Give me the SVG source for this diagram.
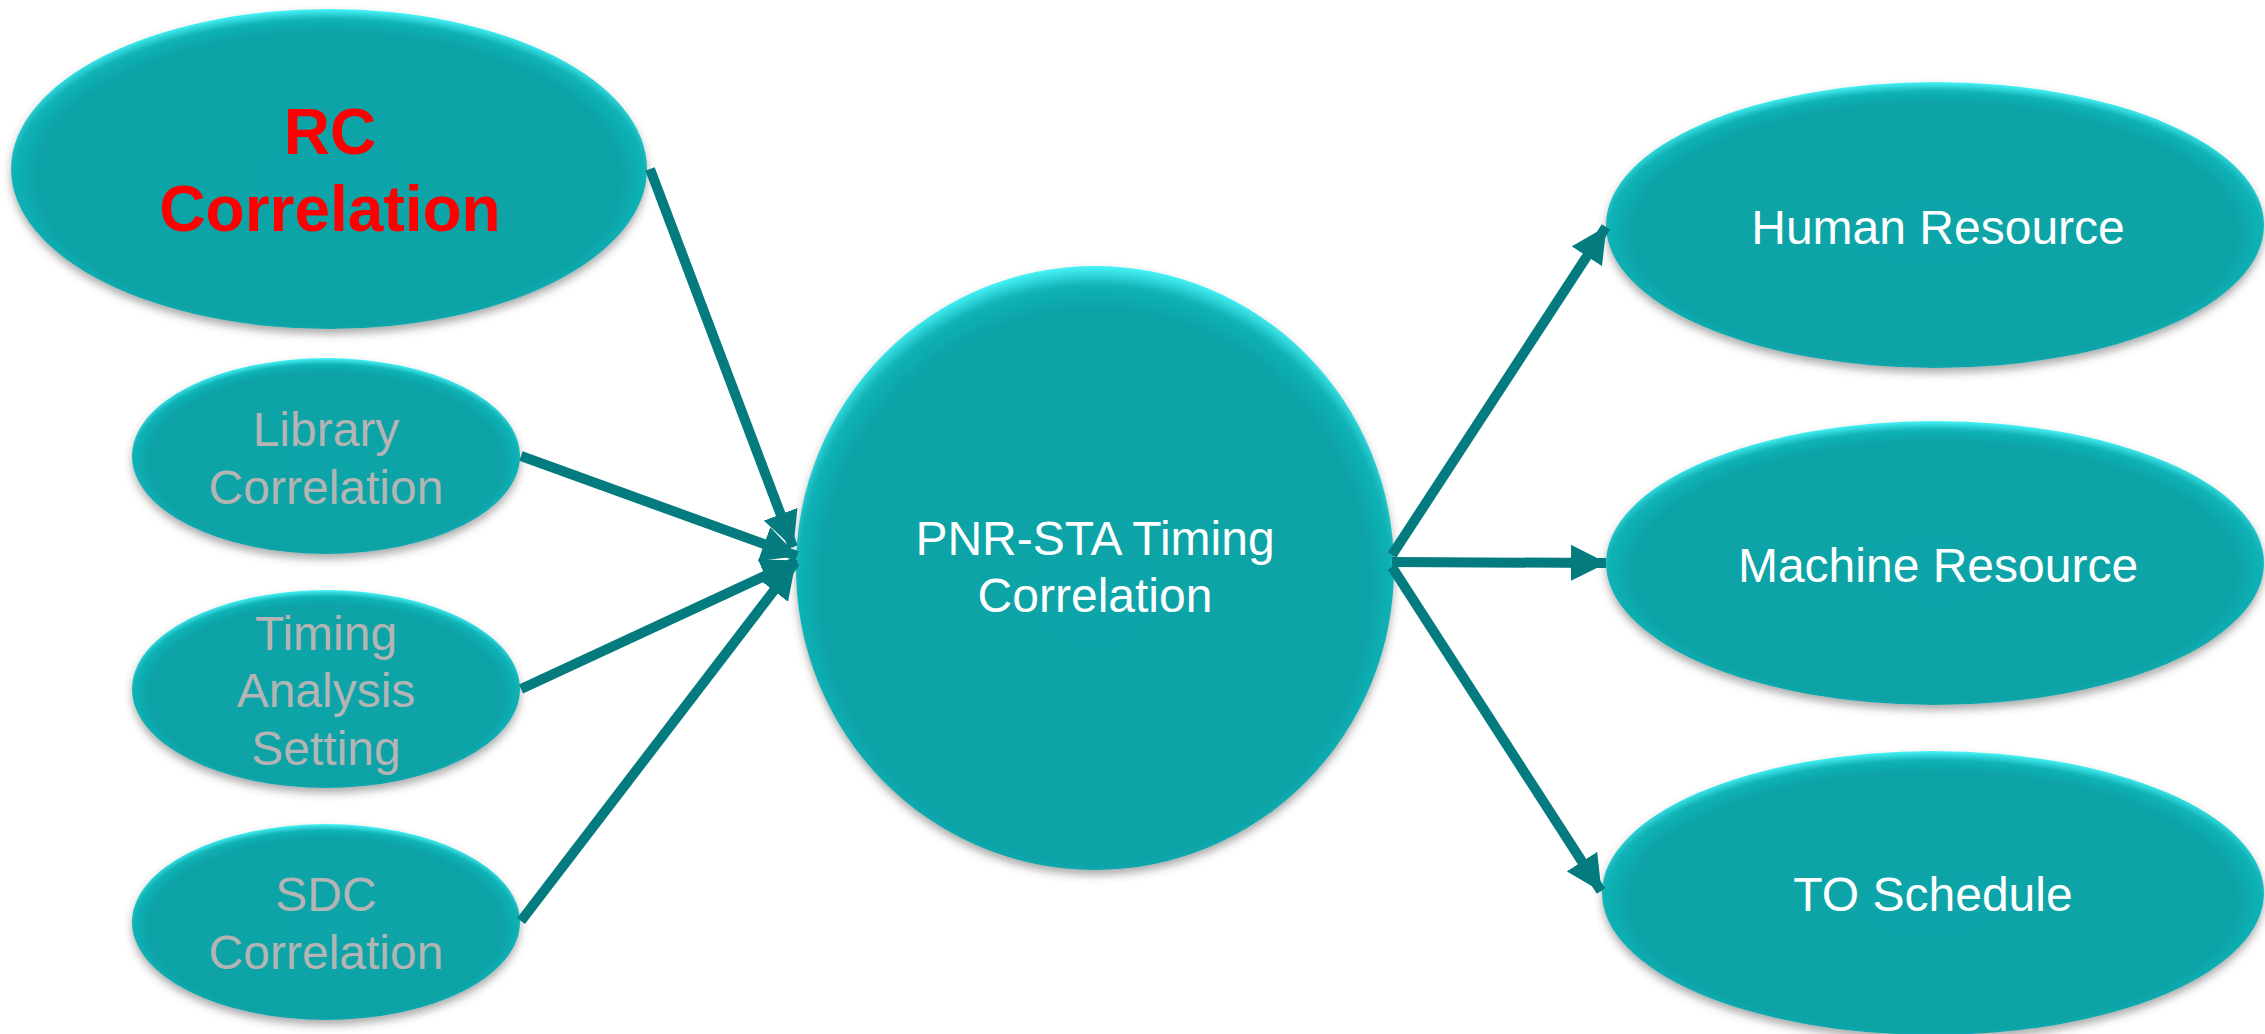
<svg xmlns="http://www.w3.org/2000/svg" width="2265" height="1034" viewBox="0 0 2265 1034">
<defs>
<radialGradient id="g" cx="0.5" cy="0.53" r="0.53">
<stop offset="0" stop-color="#09A5A9"/>
<stop offset="0.86" stop-color="#07A2A6"/>
<stop offset="0.94" stop-color="#12B3B7"/>
<stop offset="1" stop-color="#48F4F7"/>
</radialGradient>
<filter id="sh" x="-10%" y="-10%" width="120%" height="125%">
<feDropShadow dx="0" dy="5" stdDeviation="4" flood-color="#444" flood-opacity="0.45"/>
</filter>
<marker id="ah" markerUnits="userSpaceOnUse" markerWidth="36" markerHeight="36" refX="35" refY="18" orient="auto">
<path d="M0,0 L36,18 L0,36 Z" fill="#037B7F"/>
</marker>
<style>
.n{fill:url(#g);filter:url(#sh)}
.t{font-family:"Liberation Sans",Arial,sans-serif;text-anchor:middle;font-size:48px}
.w{fill:#FFFFFF}
.gr{fill:#B4B4B4}
.rc{fill:#FF0000;font-weight:bold;font-size:64px}
.c{stroke:#037B7F;stroke-width:10;fill:none;marker-end:url(#ah)}
</style>
</defs>
<rect width="2265" height="1034" fill="#FFFFFF"/>
<g id="rc">
<ellipse class="n" cx="329" cy="169" rx="318" ry="160"/>
<text class="t rc" x="330" y="154">RC</text>
<text class="t rc" x="330" y="231">Correlation</text>
</g>
<g id="library">
<ellipse class="n" cx="326" cy="456" rx="194" ry="98"/>
<text class="t gr" x="326" y="446">Library</text>
<text class="t gr" x="326" y="504">Correlation</text>
</g>
<g id="timing">
<ellipse class="n" cx="326" cy="689" rx="194" ry="99"/>
<text class="t gr" x="326" y="650">Timing</text>
<text class="t gr" x="326" y="707">Analysis</text>
<text class="t gr" x="326" y="765">Setting</text>
</g>
<g id="sdc">
<ellipse class="n" cx="326" cy="922" rx="194" ry="98"/>
<text class="t gr" x="326" y="911">SDC</text>
<text class="t gr" x="326" y="969">Correlation</text>
</g>
<g id="center">
<ellipse class="n" cx="1095" cy="568" rx="299" ry="302"/>
<text class="t w" x="1095" y="555">PNR-STA Timing</text>
<text class="t w" x="1095" y="612">Correlation</text>
</g>
<g id="human">
<ellipse class="n" cx="1935" cy="225" rx="329" ry="143"/>
<text class="t w" x="1938" y="244">Human Resource</text>
</g>
<g id="machine">
<ellipse class="n" cx="1935" cy="563" rx="329" ry="142"/>
<text class="t w" x="1938" y="582">Machine Resource</text>
</g>
<g id="to">
<ellipse class="n" cx="1933" cy="893" rx="331" ry="142"/>
<text class="t w" x="1933" y="911">TO Schedule</text>
</g>
<g id="connectors">
<line class="c" x1="650" y1="169" x2="793" y2="547"/>
<line class="c" x1="521" y1="456" x2="797" y2="556"/>
<line class="c" x1="521" y1="689" x2="797" y2="561"/>
<line class="c" x1="521" y1="921" x2="795" y2="563"/>
<line class="c" x1="1392" y1="555" x2="1606" y2="227"/>
<line class="c" x1="1392" y1="562" x2="1606" y2="563"/>
<line class="c" x1="1392" y1="567" x2="1601" y2="891"/>
</g>
</svg>
